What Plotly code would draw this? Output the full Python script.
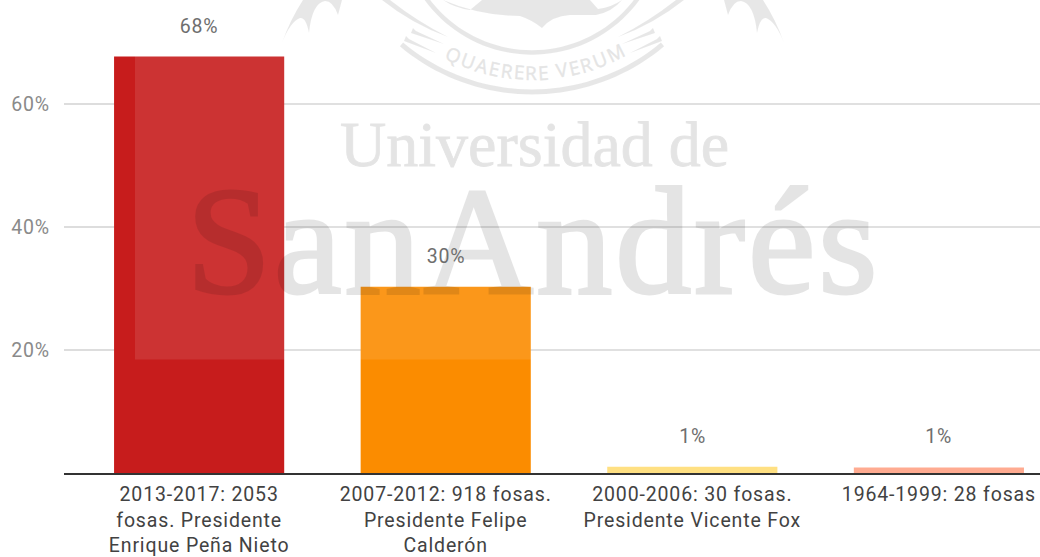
import math
import re
import plotly.graph_objects as go

categories = [
    "2013-2017: 2053<br>fosas. Presidente<br>Enrique Peña Nieto",
    "2007-2012: 918 fosas.<br>Presidente Felipe<br>Calderón",
    "2000-2006: 30 fosas.<br>Presidente Vicente Fox",
    "1964-1999: 28 fosas",
]
values = [67.8, 30.3, 1.0, 0.9]
value_labels = ["68%", "30%", "1%", "1%"]
bar_colors = ["#C71C1C", "#FB8C00", "#FFE082", "#FFAB91"]
y_ticks = [20, 40, 60]
y_tick_labels = ["20%", "40%", "60%"]

W, H = 1040, 557
PL, PR, PT, PB = 64, 1040, 0, 473.5
MARK = "rgba(0,0,0,0.1)"
CX = 532


def px(x):
    return (x - PL) / (PR - PL)


def py(y):
    return 1 - (y - PT) / (PB - PT)


def conv_path(d):
    toks = re.findall(r"[MLQZ]|-?[\d.]+", d)
    out, i = [], 0
    while i < len(toks):
        t = toks[i]
        if t in "MLQZ":
            out.append(t)
            i += 1
        else:
            out.append(f"{px(float(t)):.5f},{py(float(toks[i + 1])):.5f}")
            i += 2
    return " ".join(out)


def mirror(d, total):
    toks = re.findall(r"[MLQZ]|-?[\d.]+", d)
    out, i = [], 0
    while i < len(toks):
        t = toks[i]
        if t in "MLQZ":
            out.append(t)
            i += 1
        else:
            out.append(f"{total - float(t):.2f} {toks[i + 1]}")
            i += 2
    return " ".join(out)


def ring(cx, cy, r, t, a0, a1, n=40):
    pts = []
    for k in range(n + 1):
        a = math.radians(a0 + (a1 - a0) * k / n)
        pts.append((cx + (r + t / 2) * math.sin(a), cy + (r + t / 2) * math.cos(a)))
    for k in range(n, -1, -1):
        a = math.radians(a0 + (a1 - a0) * k / n)
        pts.append((cx + (r - t / 2) * math.sin(a), cy + (r - t / 2) * math.cos(a)))
    return "M " + " L ".join(f"{x:.2f} {y:.2f}" for x, y in pts) + " Z"


def mark_shape(d):
    return dict(type="path", xref="paper", yref="paper", path=conv_path(d),
                fillcolor=MARK, line=dict(width=0), layer="above")


left_parts = [
    # wing
    "M 282 43 Q 290 20 303 0 L 342 0 L 338 15 Q 333 1 325 1 Q 312 3 309 33 Q 306 17 300 18 Q 290 22 282 43 Z",
    # upper ribbon
    "M 382 0 L 390 0 Q 418 22 448 37 Q 412 24 382 0 Z",
    # tapered lines
    "M 413 28 L 416 31 L 444 44 L 411 33 Z",
    "M 406 36 L 409 39 L 436 53 L 404 41 Z",
]
shapes = []
for part in left_parts:
    shapes.append(mark_shape(part))
    shapes.append(mark_shape(mirror(part, 1066)))

# seal: rings and crest
shapes.append(mark_shape(ring(CX, -111, 203, 5, -40, 40)))
shapes.append(mark_shape(ring(CX, -78, 130.5, 4.5, -54, 54)))
shapes.append(mark_shape(
    "M 443 0 Q 455 8 470 10 L 482 0 L 590 0 L 598 9 Q 612 7 622 0 Q 612 12 596 15 "
    "L 570 15 Q 552 16 542 28 Q 532 20 520 16 Q 480 16 443 0 Z"
))

# lighter veil of the watermark image
shapes.append(dict(type="rect", xref="paper", yref="paper",
                   x0=px(135), x1=px(1040), y0=py(360), y1=py(0),
                   fillcolor="rgba(255,255,255,0.1)", line=dict(width=0), layer="above"))

annotations = []


def mark_text(text, x, y, size, angle=0, family="Liberation Serif"):
    annotations.append(dict(
        xref="paper", yref="paper", x=px(x), y=py(y), text=text, showarrow=False,
        xanchor="center", yanchor="middle", textangle=angle, opacity=0.1,
        font=dict(family=family, size=size, color="#000000"),
    ))


mark_text("Universidad de", 534, 145, 64)
mark_text("SanAndrés", 533, 242, 152)

motto = "QUAERERE VERUM"
motto_w = [.78, .73, .63, .56, .6, .56, .6, .56, .26, .6, .56, .6, .73, .9]
a_start, a_end = -28.0, 30.0
total = sum(motto_w)
run = 0.0
for ch, w in zip(motto, motto_w):
    mid = (run + w / 2) / total
    run += w
    if ch == " ":
        continue
    a = a_start + (a_end - a_start) * mid
    r = 184
    x = CX + r * math.sin(math.radians(a))
    y = -111 + r * math.cos(math.radians(a))
    mark_text(ch, x, y, 19, angle=-a, family="Open Sans")

for cat, val, lab in zip(categories, values, value_labels):
    annotations.append(dict(
        x=cat, y=val, xref="x", yref="y", text=lab, showarrow=False,
        xanchor="center", yanchor="middle", yshift=30.5,
        font=dict(family="Roboto", size=19.5, color="#6E6E6E"),
    ))

fig = go.Figure(go.Bar(
    x=categories, y=values, marker=dict(color=bar_colors, line=dict(width=0)),
    width=0.69, hoverinfo="skip",
))
fig.update_layout(
    width=W, height=H, autosize=False,
    margin=dict(l=PL, r=W - PR, t=PT, b=H - PB, pad=0),
    paper_bgcolor="white", plot_bgcolor="white",
    font=dict(family="Roboto", size=19.5, color="#444444"),
    showlegend=False, shapes=shapes, annotations=annotations,
    xaxis=dict(
        type="category", range=[-0.548, 3.41], showgrid=False, showline=True,
        linecolor="#333333", linewidth=2, ticks="", tickfont=dict(size=19.5, color="#424242"),
        ticklabelstandoff=3, fixedrange=True, automargin=False,
    ),
    yaxis=dict(
        range=[0, 77], tickmode="array", tickvals=y_ticks, ticktext=y_tick_labels,
        showgrid=True, gridcolor="#DDDDDD", gridwidth=2, zeroline=False, showline=False,
        ticks="", tickfont=dict(size=19.5, color="#8A8A8A"), ticklabelstandoff=13,
        fixedrange=True, automargin=False,
    ),
)
css = (
    'text[style*="Roboto"]{letter-spacing:.85px}'
    'text[style*="font-size: 152px"]{stroke:#000;stroke-width:3px;letter-spacing:3px}'
    'text[style*="font-size: 64px"]{stroke:#000;stroke-width:.8px}'
    'text[style*="font-size: 19px"]{stroke:#000;stroke-width:.5px}'
)
post = (
    "document.body.style.margin='0';"
    "var s=document.createElement('style');s.textContent=" + repr(css) + ";"
    "document.head.appendChild(s);"
)
fig.write_html("out.html", config={"displayModeBar": False}, post_script=post)
